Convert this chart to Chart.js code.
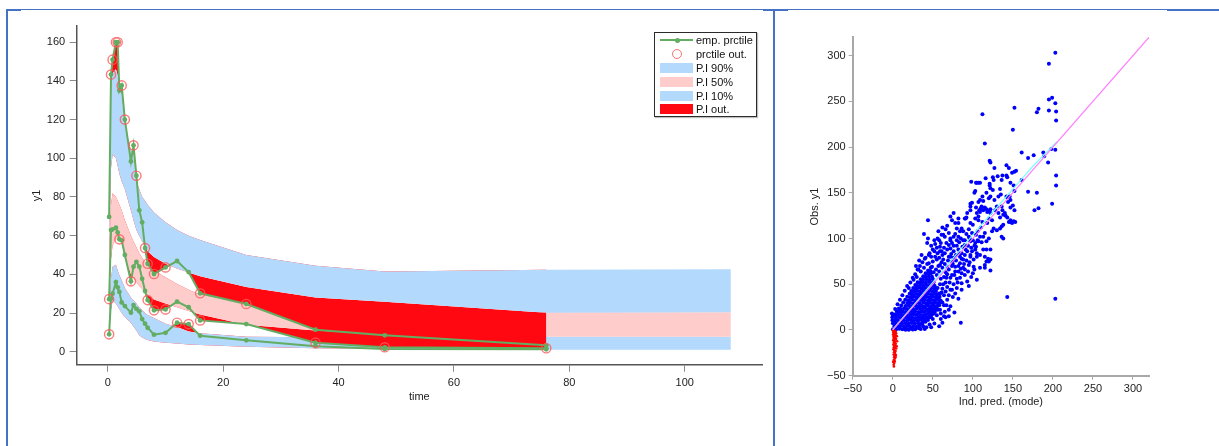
<!DOCTYPE html>
<html>
<head>
<meta charset="utf-8">
<script src="https://cdn.jsdelivr.net/npm/chart.js@4.4.1/dist/chart.umd.min.js"></script>
<style>
  html, body { margin: 0; padding: 0; background: #fff; width: 1219px; height: 446px; overflow: hidden;
    font-family: "Liberation Sans", Arial, Helvetica, sans-serif; }
  canvas { position: absolute; top: 0; }
  #vpc { left: 0; }
  #obs { left: 776px; }
  .frame { position: absolute; background: #4472c4; }
  #legendBox { position: absolute; left: 654px; top: 32px; width: 103px; height: 85px; box-sizing: border-box;
    border: 1.5px solid #2b2b2b; background: #fff; box-shadow: 1px 1px 1px rgba(0,0,0,0.25); }
  .lg { position: absolute; }
  .lgText { position: absolute; left: 696px; font-size: 11px; line-height: 14px; color: #111; white-space: nowrap; }
  .sw { position: absolute; left: 660px; width: 33px; height: 10px; }
</style>
</head>
<body>
<canvas id="vpc" width="770" height="446"></canvas>
<canvas id="obs" width="443" height="446"></canvas>

<div id="legendBox"></div>
<div class="lg" style="left:660px;top:39px;width:33px;height:2px;background:rgb(98,173,98);"></div>
<div class="lg" style="left:674.5px;top:37.5px;width:5px;height:5px;border-radius:50%;background:rgb(98,173,98);"></div>
<div class="lgText" style="top:33px;">emp. prctile</div>
<div class="lg" style="left:672px;top:49px;width:8px;height:8px;border-radius:50%;border:1.4px solid rgba(250,90,90,0.85);"></div>
<div class="lgText" style="top:47px;">prctile out.</div>
<div class="sw" style="top:63px;background:rgb(179,217,253);"></div>
<div class="lgText" style="top:61px;">P.I 90%</div>
<div class="sw" style="top:76.5px;background:rgb(255,204,204);"></div>
<div class="lgText" style="top:74.5px;">P.I 50%</div>
<div class="sw" style="top:90.5px;background:rgb(179,217,253);"></div>
<div class="lgText" style="top:88.5px;">P.I 10%</div>
<div class="sw" style="top:104px;background:rgb(255,8,18);"></div>
<div class="lgText" style="top:102px;">P.I out.</div>

<!-- panel frames -->
<div class="frame" style="left:7px;top:9px;width:1212px;height:1px;"></div>
<div class="frame" style="left:6px;top:9px;width:15px;height:2px;"></div>
<div class="frame" style="left:763px;top:9px;width:25px;height:2px;"></div>
<div class="frame" style="left:1167px;top:9px;width:52px;height:2px;"></div>
<div class="frame" style="left:6px;top:9px;width:2px;height:437px;"></div>
<div class="frame" style="left:773px;top:9px;width:2px;height:437px;"></div>

<script>
// ---------- VPC: empirical percentiles and prediction intervals ----------
const binTimes = [0.22, 0.55, 0.82, 1.4, 1.7, 2.0, 2.4, 2.95, 4.0, 4.45, 4.95, 5.45, 5.95, 6.45, 6.9, 8, 10, 12, 14, 16, 24, 36, 48, 76];
const emp90 = [69.7, 143.3, 151, 160, 160, 135, 137.7, 120, 98.4, 106.7, 91, 73.1, 66.9, 53.6, 45.5, 40.2, 43.6, 46.9, 41.2, 30.2, 24.7, 11.4, 8.5, 3.3];
const emp50 = [27.2, 62.9, 63.3, 64.1, 61.7, 58.1, 57.6, 50, 36.4, 44, 46.5, 44, 37.7, 31.4, 26.7, 21.4, 21.9, 25.9, 23, 16.2, 14.3, 4.7, 2.3, 1.8];
const emp10 = [9, 27.5, 30, 36, 33.3, 30.9, 25.5, 23.6, 20.2, 24.1, 22.2, 20.9, 16.9, 14.5, 12.4, 8.8, 9.8, 15, 14.3, 8.3, 5.9, 2.9, 1.4, 1.3];
// percentiles flagged as lying outside their prediction interval
const out90 = [0, 1, 1, 1, 1, 0, 1, 1, 0, 1, 1, 0, 0, 1, 1, 1, 1, 0, 0, 1, 1, 0, 0, 0];
const out50 = [1, 0, 0, 0, 0, 1, 0, 0, 1, 0, 0, 0, 0, 0, 1, 1, 1, 0, 0, 1, 0, 1, 1, 1];
const out10 = [1, 0, 0, 0, 0, 0, 0, 0, 0, 0, 0, 0, 0, 0, 0, 0, 0, 1, 1, 0, 0, 0, 0, 0];

const bandTimes = [0.22, 0.55, 0.82, 1.4, 1.7, 2.0, 2.4, 2.95, 4.0, 4.45, 4.95, 5.45, 5.95, 6.45, 6.9, 8, 10, 12, 14, 16, 24, 36, 48, 76, 108];
const pi90Lo = [52, 95, 102, 100, 96, 92, 88, 84, 73, 68, 63, 60, 57, 55, 52, 49, 45.5, 43, 41, 39, 33.5, 28, 25.8, 20.2, 20.4];
const pi90Hi = [80, 138, 144, 146, 143, 138, 133, 117, 104, 102, 88, 84, 80, 78, 76, 72, 67, 63, 60, 57.8, 50, 44.5, 41.5, 42.4, 42.6];
const pi50Lo = [30, 48, 55, 58, 59, 59, 57, 49, 40, 38, 36, 34, 32.5, 31, 29.5, 27, 25, 23, 21, 19.3, 14, 11, 9, 7.8, 7.8];
const pi50Hi = [50, 76, 82, 80, 78, 76, 73, 68, 60, 57, 54, 51, 48.5, 46.5, 45, 42, 38.5, 35, 32, 29.5, 25.5, 22.5, 21, 20.4, 20.4];
const pi10Lo = [10, 22, 26.5, 25, 23.5, 22, 20, 18, 15, 13, 11, 8.5, 7.3, 6.6, 6.1, 5.3, 4.7, 4.2, 3.8, 3.5, 2.6, 1.8, 1.4, 1.0, 1.0];
const pi10Hi = [20, 38, 44, 45, 42, 39.5, 37, 33, 28, 26.5, 25, 23, 21.5, 20, 19, 17.5, 14.5, 12.8, 10.5, 9.5, 7.8, 7.5, 7.6, 7.8, 7.8];

const timeTicks = [0, 20, 40, 60, 80, 100];
const y1Ticks = [0, 20, 40, 60, 80, 100, 120, 140, 160];

// ---------- Observed vs individual prediction ----------
// dense cluster near the origin
const obsCore = [
  [0.3,0.9],[4.1,0.5],[8.2,1.2],[12.1,0.7],[16.0,1.3],[20.2,0.9],[24.1,1.6],
  [2.1,4.2],[6.2,3.7],[9.9,4.4],[14.1,3.8],[18.0,4.3],[21.7,3.6],[25.5,4.0],[29.4,3.6],[33.0,4.5],
  [0.2,7.4],[3.9,6.9],[8.1,7.5],[11.8,7.0],[16.2,7.3],[20.1,6.8],[23.9,7.6],[27.8,7.1],[31.9,7.4],[35.8,6.9],
  [-0.4,10.6],[2.2,10.1],[5.8,10.7],[10.1,10.2],[13.9,10.6],[18.2,10.3],[22.0,10.8],[25.8,10.1],[30.1,10.5],[33.0,10.9],[36.8,10.2],[40.1,10.8],
  [-0.5,13.9],[3.9,13.4],[8.1,13.8],[11.9,13.3],[16.1,13.9],[20.0,13.5],[24.2,13.7],[27.9,13.2],[32.1,13.8],[35.8,13.4],[38.2,14.0],[41.9,13.5],[45.0,13.9],
  [2.1,17.0],[5.9,16.6],[10.2,17.1],[14.0,16.5],[17.9,17.0],[22.1,16.7],[26.0,17.2],[29.8,16.6],[34.1,16.9],[38.0,16.5],[41.9,17.1],[45.8,16.9],[49.1,17.3],
  [5.1,20.3],[8.0,19.8],[12.1,20.2],[15.9,19.7],[20.2,20.4],[24.0,19.9],[27.9,20.1],[32.2,19.6],[36.0,20.3],[39.8,19.8],[44.1,20.2],[46.2,20.6],[49.8,20.0],[52.6,19.7],
  [7.6,23.5],[10.1,23.0],[14.2,23.4],[17.9,22.9],[22.1,23.3],[25.8,23.0],[30.0,23.6],[34.1,23.1],[37.9,23.4],[42.0,22.9],[46.1,23.5],[49.0,23.1],[52.5,23.4],[55.8,23.0],
  [10.6,26.7],[15.9,26.2],[20.1,26.6],[24.0,26.1],[28.2,26.8],[32.0,26.3],[35.9,26.5],[40.1,26.0],[44.0,26.7],[47.9,26.2],[51.1,26.6],[54.8,26.3],[58.0,26.9],
  [13.1,29.9],[18.1,29.4],[21.9,29.8],[26.1,29.3],[30.0,29.9],[33.8,29.5],[38.1,29.7],[42.0,29.2],[46.1,29.8],[49.9,29.4],[53.0,29.9],[56.6,29.5],[59.5,30.1],
  [15.6,33.1],[19.9,32.6],[24.1,33.0],[28.0,32.5],[31.9,33.2],[36.1,32.7],[40.0,32.9],[44.1,32.4],[48.0,33.1],[51.9,32.6],[54.1,33.3],[57.8,32.7],
  [18.1,36.3],[22.0,35.8],[26.1,36.2],[29.9,35.7],[34.0,36.4],[38.1,35.9],[41.9,36.1],[46.0,35.6],[50.1,36.3],[53.9,35.8],[55.2,36.5],[58.5,36.0],
  [21.1,39.5],[24.0,39.0],[28.1,39.4],[31.9,38.9],[36.0,39.6],[40.1,39.1],[44.0,39.3],[47.9,38.8],[52.1,39.5],[55.0,39.0],[58.8,39.3],
  [23.1,42.7],[26.0,42.2],[30.1,42.6],[33.9,42.1],[38.0,42.8],[42.1,42.3],[45.9,42.5],[50.0,42.0],[54.0,42.6],
  [25.6,45.9],[28.1,45.4],[31.9,45.8],[36.0,45.3],[40.1,46.0],[43.9,45.5],[48.0,45.7],[52.1,45.2],[53.2,46.1],
  [28.1,49.1],[30.0,48.6],[34.1,49.0],[37.9,48.5],[42.0,49.2],[46.1,48.7],[50.0,48.9],[52.2,48.4],
  [31.1,52.3],[33.6,51.8],[37.1,52.2],[41.0,51.7],[45.1,52.4],[48.6,51.9],[51.0,52.1],
  [35.1,55.5],[38.0,55.0],[42.1,55.4],[46.0,54.9],[50.1,55.6],
  [38.1,58.7],[41.0,58.2],[45.1,58.6],[49.0,58.1],
  [41.1,61.9],[44.0,61.4],[47.6,61.8],
  [44.1,65.1],[47.0,64.6],
  [47.6,68.3]
];
// scattered observations at higher concentrations
const obsHigh = [
  [203,303],[195,291],[195,252],[199,254],[203,248],[195,240],[204,239],[204,229],[180,238],[182,242],
  [152,243],[112,236],[150,219],[115,204],[203,197],[198,198],[188,194],[189,190],[176,191],[169,188],
  [161,194],[194,183],[121,185],[122,183],[127,177],[142,180],[145,177],[137,169],[142,169],[143,167],
  [149,172],[152,173],[154,174],[125,167],[116,166],[204,169],[204,158],[180,150],[169,151],[147,161],
  [152,152],[136,164],[131,168],[126,164],[122,155],[104,161],[107,161],[98,162],[103,152],[102,150],
  [134,154],[161,164],[151,158],[121,160],[121,158],[125,153],[109,161],[105,161],
  [199,138],[177,131],[182,133],[147,142],[144,140],[150,136],[152,131],[112,146],[113,141],[99,139],
  [97,138],[107,140],[104,134],[115,134],[118,129],[122,132],[97,131],[108,131],[110,133],[136,135],
  [137,131],[147,134],[141,125],[132,128],[134,123],[143,123],[91,122],[92,123],[82,122],[44,120],
  [147,120],[151,119],[147,118],[149,117],[140,128],[138,126],[136,102],[130,135],[128,131],[132,146],
  [127,142],[122,146],[120,144],[135,148],[142,146],[143,145],[146,146],[117,150],[109,142],[111,135],
  [113,131],[117,132],[121,131],[97,135],[105,128],[107,124],[103,122],[107,120],[109,129],[122,128],
  [120,122],[124,120],[118,117],[126,111],[130,109],[124,108],[134,111],[136,113],[138,115],[138,100],
  [115,106],[113,102],[117,97],[120,100],[93,128],[90,122],[86,111],[84,108],[82,117],[97,117],
  [99,106],[95,102],[97,97],[76,128],[72,124],[74,120],[78,117],[80,111],[68,114],[57,108],
  [61,104],[65,102],[72,100],[76,102],[82,102],[39,105],[43,95],[109,102],[107,97],[104,91],
  [103,88],[105,84],[90,93],[88,98],[145,118],[153,118],[106,108],[110,112],[112,118],[100,115],
  [95,110],[92,105],[88,108],[78,105],[70,106],[66,110],[62,112],[44,100]
];
// band of observations between the cluster and the upper values
const obsMid = [
  [122,88],[120,75],[59,91],[61,86],[65,84],[68,88],[72,89],[76,86],[82,88],[86,84],
  [90,82],[93,86],[97,80],[101,77],[105,80],[109,82],[113,88],[115,80],[117,75],[119,78],
  [40,78],[45,73],[49,69],[55,77],[59,71],[63,77],[68,69],[74,75],[78,69],[84,73],
  [88,68],[95,71],[101,69],[109,68],[115,71],[122,77],[115,68],[122,65],[102,66],[117,88],
  [97,82],[86,44],[86,51],[93,53],[75,36],[72,44],[32,66],[26,55],[85,8],[77,19],
  [72,26],[67,27],[55,16],[59,22],[38,4],[30,2.5],[41,9],[62,30],[64,38],[68,47],
  [80,56],[90,60],[95,48],[100,62],[105,55],[60,12],[70,15],[65,20],[57,35],[61,41],
  [66,52],[74,60],[82,64],[143,36],[203,34],
  [-1,18],[0.5,16],[3,23],[6,28],[9,33],[12,38],[15,43],[18,48],[22,52],[25,57],
  [28,61],[31,66],[34,70],[37,74],[41,79],[46,84],[50,88],[53,94],[43,72],[39,68],
  [35,64],[30,58],[20,46],[48,92],[52,98],[56,100],[36,82],[33,76],[29,70],
  [50,75],[53,80],[56,84],[58,79],[62,82],[60,95],[64,90],[67,95],[70,93],[70,80],
  [73,83],[76,79],[79,82],[80,92],[83,96],[87,91],[84,80],[88,77],[91,88],[94,92],
  [98,90],[100,98],[103,95],[85,100],[80,98],[74,95],[58,98],[55,90],[52,86],[48,80],
  [45,82],[47,62],[51,63],[55,60],[58,64],[62,68],[66,63],[70,66],[74,70],[78,64],
  [82,70],[86,62],[90,66],[94,64],[98,58],[60,56],[63,50],[67,57],[71,52],[76,50],
  [80,46],[84,57],[56,46],[59,50],[58,40],[62,45],[66,42],[70,38],[74,44],[78,40],
  [82,34],[68,33],[64,27],[60,32],[57,27],[56,22],[60,18],[64,15],[50,12],[46,6],
  [42,3],[35,1],[25,0.5],[52,7],[33,2],[37,7],[44,11],[48,14],[51,18],[53,22],
  [40,1],[28,0.8],[20,0.3],[16,0.2],[62,8],[58,4],[66,14],[70,22],[48,3],
  [54,66],[57,70],[61,74],[65,72],[69,76],[72,80],[75,72],[79,76],[83,84],[86,78],
  [64,58],[68,61],[72,57],[77,60],[81,52],[85,67],[89,72],[92,76],[96,74],[99,86],
  [102,92],[106,98],[111,96],[104,104],[96,100],[90,98],[76,92],[72,98],[63,104],[59,86]
];
// observations below zero
const obsBelow = [
  [0.3,-0.6],[1.1,-1.2],[2.4,-0.9],[3.6,-2.1],[0.7,-2.8],[1.9,-3.3],[3.0,-4.1],[4.2,-3.6],[0.4,-5.0],[1.5,-5.6],
  [2.7,-6.2],[3.9,-5.8],[0.9,-7.4],[2.1,-8.0],[3.3,-8.6],[1.2,-9.7],[2.5,-10.3],[4.1,-9.9],[0.6,-11.2],[1.8,-12.0],
  [3.0,-12.6],[1.4,-13.8],[2.6,-14.5],[3.8,-15.1],[0.8,-16.0],[2.0,-16.8],[3.2,-17.6],[1.3,-18.9],[2.7,-19.7],[4.4,-20.2],
  [0.9,-21.0],[2.1,-22.1],[3.5,-23.0],[1.6,-24.4],[2.9,-25.3],[1.1,-26.8],[2.3,-28.0],[3.9,-27.4],[1.7,-29.9],[2.8,-31.2],
  [1.3,-32.8],[2.5,-34.1],[1.9,-36.0],[1.2,-38.0],[1.5,-40.0],[5.2,-6.8],[5.5,-12.4],[4.9,-17.8],[3.6,-29.5],[0.5,-34.9]
];
const identityX = [0, 320];
const identityY = [0, 320];
const smoothX = [0, 25, 50, 75, 100, 125, 150, 175, 205];
const smoothY = [0.5, 26, 52, 78, 104, 129, 154, 179, 206];
const predTicks = [-50, 0, 50, 100, 150, 200, 250, 300];
const obsTicks = [-50, 0, 50, 100, 150, 200, 250, 300];

// ---------- shared styling ----------
Chart.defaults.font.family = '"Liberation Sans", Arial, Helvetica, sans-serif';
Chart.defaults.font.size = 11;
Chart.defaults.color = '#222';

const BLUE_BAND = 'rgb(179,217,253)';
const PINK_BAND = 'rgb(255,204,204)';
const RED_OUT = 'rgb(255,8,18)';
const GREEN = 'rgb(98,173,98)';
const NONE = 'rgba(0,0,0,0)';

const toPts = (xs, ys) => xs.map((x, i) => ({ x: x, y: ys[i] }));
const pairs = list => list.map(p => ({ x: p[0], y: p[1] }));
const tickList = values => scale => { scale.ticks = values.map(v => ({ value: v })); };
const minusFmt = v => (v < 0 ? '\u2212' + Math.abs(v) : String(v));

function edge(values) {
  return { data: toPts(bandTimes, values), borderColor: NONE, borderWidth: 0, pointRadius: 0, fill: false, order: 30 };
}
function band(values, target, color) {
  return { data: toPts(bandTimes, values), borderColor: NONE, borderWidth: 0, pointRadius: 0,
           fill: { target: target, above: color, below: color }, order: 30 };
}
function outside(values, target, side) {
  return { data: toPts(binTimes, values), borderColor: NONE, borderWidth: 0, pointRadius: 0,
           fill: { target: target, above: side === 'above' ? RED_OUT : NONE, below: side === 'below' ? RED_OUT : NONE },
           order: 20 };
}
function percentile(values) {
  return { data: toPts(binTimes, values), borderColor: GREEN, borderWidth: 2, pointRadius: 2.4,
           pointBackgroundColor: GREEN, pointBorderWidth: 0, fill: false, tension: 0, order: 10 };
}

const circled = [];
[[emp90, out90], [emp50, out50], [emp10, out10]].forEach(([vals, flags]) => {
  flags.forEach((f, i) => { if (f) circled.push({ x: binTimes[i], y: vals[i] }); });
});

new Chart(document.getElementById('vpc'), {
  type: 'line',
  data: {
    datasets: [
      edge(pi90Lo),                   // 0
      band(pi90Hi, 0, BLUE_BAND),     // 1
      edge(pi50Lo),                   // 2
      band(pi50Hi, 2, PINK_BAND),     // 3
      edge(pi10Lo),                   // 4
      band(pi10Hi, 4, BLUE_BAND),     // 5
      outside(emp90, 0, 'below'),
      outside(emp90, 1, 'above'),
      outside(emp50, 2, 'below'),
      outside(emp50, 3, 'above'),
      outside(emp10, 4, 'below'),
      outside(emp10, 5, 'above'),
      percentile(emp90),
      percentile(emp50),
      percentile(emp10),
      { data: circled, showLine: false, pointRadius: 4.6, pointBorderWidth: 1.4,
        pointBorderColor: 'rgba(250,90,90,0.8)', pointBackgroundColor: NONE, order: 5 }
    ]
  },
  options: {
    responsive: false, animation: false, devicePixelRatio: 1,
    layout: { padding: { left: 26.4, top: 26, right: 8, bottom: 38.4 } },
    plugins: { legend: { display: false }, tooltip: { enabled: false } },
    scales: {
      x: {
        type: 'linear', min: -5.4, max: 113.4,
        afterBuildTicks: tickList(timeTicks),
        afterFit: s => { s.height = 42.9; },
        grid: { drawOnChartArea: false, tickLength: 7, color: '#8a8a8a' },
        border: { color: '#555', width: 1.5 },
        ticks: { padding: 4.4, color: '#222', maxRotation: 0 },
        title: { display: true, text: 'time', color: '#222', font: { size: 11 }, padding: { top: 4, bottom: 4 } }
      },
      y: {
        type: 'linear', min: -6.7, max: 168.4,
        afterBuildTicks: tickList(y1Ticks),
        afterFit: s => { s.width = 50.3; },
        grid: { drawOnChartArea: false, tickLength: 7, color: '#8a8a8a' },
        border: { color: '#555', width: 1.5 },
        ticks: { padding: 4.5, color: '#222' },
        title: { display: true, text: 'y1', color: '#222', font: { size: 11 }, padding: { top: 4, bottom: 4 } }
      }
    }
  }
});

new Chart(document.getElementById('obs'), {
  type: 'scatter',
  data: {
    datasets: [
      { type: 'line', data: toPts(identityX, identityY), showLine: true, borderColor: 'rgb(255,125,255)',
        borderWidth: 1.2, pointRadius: 0, fill: false, order: 1 },
      { type: 'line', data: toPts(smoothX, smoothY), showLine: true, borderColor: 'rgb(120,255,255)',
        borderWidth: 1.2, pointRadius: 0, fill: false, order: 2 },
      { data: pairs(obsCore).concat(pairs(obsMid), pairs(obsHigh)), pointRadius: 2,
        pointBackgroundColor: 'rgb(0,0,255)', pointBorderWidth: 0, order: 10 },
      { data: pairs(obsBelow), pointRadius: 1.3, pointBackgroundColor: 'rgb(255,0,0)', pointBorderWidth: 0, order: 9 }
    ]
  },
  options: {
    responsive: false, animation: false, devicePixelRatio: 1,
    layout: { padding: { left: 28.4, top: 37.3, right: 70, bottom: 33.1 } },
    plugins: { legend: { display: false }, tooltip: { enabled: false } },
    scales: {
      x: {
        type: 'linear', min: -50, max: 320,
        afterBuildTicks: tickList(predTicks),
        afterFit: s => { s.height = 37.2; },
        grid: { drawOnChartArea: false, tickLength: 4, color: '#a8a8a8' },
        border: { color: '#a8a8a8', width: 2 },
        ticks: { padding: 3, color: '#222', maxRotation: 0, callback: minusFmt },
        title: { display: true, text: 'Ind. pred. (mode)', color: '#222', font: { size: 11 }, padding: { top: 4, bottom: 4 } }
      },
      y: {
        type: 'linear', min: -50, max: 320,
        afterBuildTicks: tickList(obsTicks),
        afterFit: s => { s.width = 48.3; },
        grid: { drawOnChartArea: false, tickLength: 4, color: '#a8a8a8' },
        border: { color: '#a8a8a8', width: 2 },
        ticks: { padding: 3, color: '#222', callback: minusFmt },
        title: { display: true, text: 'Obs. y1', color: '#222', font: { size: 11 }, padding: { top: 4, bottom: 4 } }
      }
    }
  }
});
</script>
</body>
</html>
